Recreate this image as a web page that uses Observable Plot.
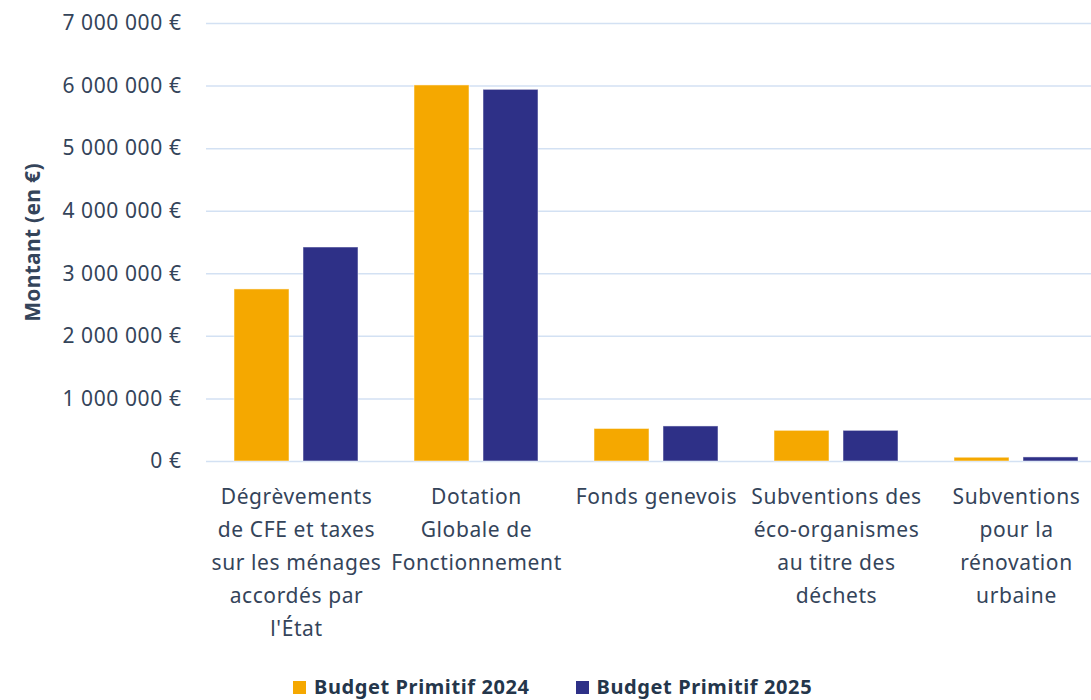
<!DOCTYPE html>
<html><head><meta charset="utf-8">
<script src="https://cdn.jsdelivr.net/npm/d3@7"></script>
<script src="https://cdn.jsdelivr.net/npm/@observablehq/plot@0.6"></script>
<style>
html,body{margin:0;padding:0;overflow:hidden;background:#fff;}
#wrap{position:relative;width:1106px;height:700px;font-family:"Noto Sans",sans-serif;}
#legend{position:absolute;left:293px;top:676px;display:flex;align-items:center;font-weight:bold;font-size:20px;line-height:22px;letter-spacing:0.6px;color:#24364b;}
#legend .item{display:flex;align-items:center;margin-right:46px;}
#legend .sw{width:13px;height:13px;margin-right:8px;display:inline-block;}
</style></head><body><div id="wrap"><div id="chart"></div><div id="legend"></div></div>
<script>
const categories = ["Dégrèvements de CFE et taxes sur les ménages accordés par l'État","Dotation Globale de Fonctionnement","Fonds genevois","Subventions des éco-organismes au titre des déchets","Subventions pour la rénovation urbaine"];
const tickLabels = ["Dégrèvements\nde CFE et taxes\nsur les ménages\naccordés par\nl'État","Dotation\nGlobale de\nFonctionnement","Fonds genevois","Subventions des\néco-organismes\nau titre des\ndéchets","Subventions\npour la\nrénovation\nurbaine"];
const series = ["Budget Primitif 2024","Budget Primitif 2025"];
const values2024 = [2750000, 6010000, 520000, 490000, 60000];
const values2025 = [3420000, 5940000, 560000, 490000, 65000];
const yTicks = [0,1000000,2000000,3000000,4000000,5000000,6000000,7000000];
const colors = ["#F5A800","#2E3087"];

const data = [];
categories.forEach((c,i)=>{
  data.push({category:c, series:series[0], value:values2024[i]});
  data.push({category:c, series:series[1], value:values2025[i]});
});
const fmt = v => d3.format(",")(v).replace(/,/g, " ") + " €";
const labelOf = new Map(categories.map((c,i)=>[c, tickLabels[i]]));

const chart = Plot.plot({
  width: 1106, height: 676,
  marginLeft: 206, marginRight: 0, marginTop: 23, marginBottom: 215,
  style: {fontFamily:"Noto Sans, sans-serif", fontSize:"21px", color:"#34445a", background:"#fff", letterSpacing:"0.6px"},
  fx: {domain: categories, padding: 0, label: null},
  x: {domain: series, paddingInner: 0.2, paddingOuter: 0.386, axis: null},
  y: {domain: [0, 7000000], label: null},
  color: {domain: series, range: colors},
  marks: [
    Plot.gridY(yTicks, {stroke:"#d3e1f3", strokeOpacity:1, strokeWidth:1.5}),
    Plot.barY(data, {fx:"category", x:"series", y:"value", fill:"series", stroke:"white", strokeOpacity:0.5, strokeWidth:1}),
    Plot.axisY(yTicks, {tickSize:0, tickPadding:25, tickFormat: fmt, label:"Montant (en €)", labelAnchor:"center", labelArrow:"none", labelOffset:181}),
    Plot.axisFx({anchor:"bottom", tickSize:0, tickPadding:19, tickFormat: d => labelOf.get(d), lineHeight:1.57, label:null})
  ]
});
document.getElementById("chart").appendChild(chart);
d3.select(chart).selectAll('g[aria-label="y-axis label"] text').attr("font-weight","bold").attr("font-size","21px").attr("letter-spacing","0.3px");

const lg = document.getElementById("legend");
series.forEach((s,i)=>{
  const it = document.createElement("div"); it.className="item";
  const sw = document.createElement("span"); sw.className="sw"; sw.style.background=colors[i];
  it.appendChild(sw); it.appendChild(document.createTextNode(s)); lg.appendChild(it);
});
</script></body></html>
